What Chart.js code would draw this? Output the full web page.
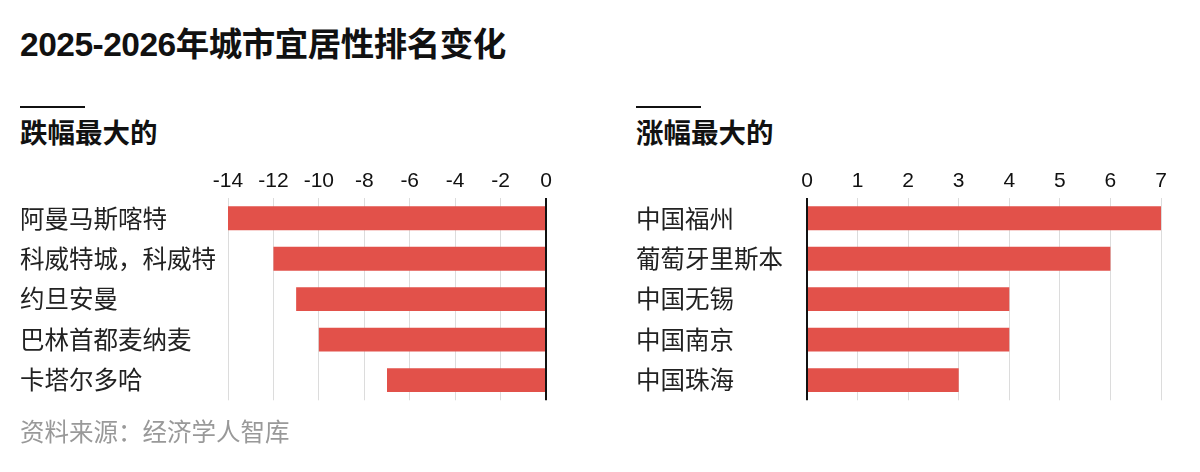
<!DOCTYPE html>
<html>
<head>
<meta charset="utf-8">
<script src="https://cdn.jsdelivr.net/npm/chart.js@4"></script>
<style>
  body { margin: 0; width: 1200px; height: 472px; background: #fff; position: relative; overflow: hidden;
         font-family: "Liberation Sans", "Noto Sans CJK SC", sans-serif; color: #111; }
  .title { position: absolute; left: 20px; top: 23px; font-size: 33.5px; font-weight: bold; line-height: 44px; letter-spacing: -0.5px; }
  .rule { position: absolute; top: 106px; width: 65px; height: 2px; background: #111; }
  .sub { position: absolute; top: 116px; font-size: 27.5px; font-weight: bold; line-height: 36px; }
  .source { position: absolute; left: 20px; top: 417px; font-size: 24.5px; line-height: 32px; color: #999; }
  canvas { position: absolute; }
</style>
</head>
<body>
<div class="title">2025-2026年城市宜居性排名变化</div>
<div class="rule" style="left:20px"></div>
<div class="sub" style="left:20px">跌幅最大的</div>
<div class="rule" style="left:636px"></div>
<div class="sub" style="left:636px">涨幅最大的</div>
<canvas id="fallChart" style="left:20px; top:162px"></canvas>
<canvas id="riseChart" style="left:636px; top:162px"></canvas>
<div class="source">资料来源：经济学人智库</div>

<script>
// 数据
const fallCities = ['阿曼马斯喀特', '科威特城，科威特', '约旦安曼', '巴林首都麦纳麦', '卡塔尔多哈'];
const fallValues = [-14, -12, -11, -10, -7];
const riseCities = ['中国福州', '葡萄牙里斯本', '中国无锡', '中国南京', '中国珠海'];
const riseValues = [7, 6, 4, 4, 3];

Chart.defaults.font.family = '"Liberation Sans", "Noto Sans CJK SC", sans-serif';
Chart.defaults.color = '#111';

// 排名变化条形图
function drawChart(canvasId, labels, values, opts) {
    const canvas = document.getElementById(canvasId);
    canvas.width = opts.width;
    canvas.height = 256;
    canvas.style.width = opts.width + 'px';
    canvas.style.height = '256px';

    return new Chart(canvas.getContext('2d'), {
        type: 'bar',
        data: {
            labels: labels,
            datasets: [{
                data: values,
                backgroundColor: '#e2514a',
                borderWidth: 0,
                categoryPercentage: 1,
                barPercentage: 0.59
            }]
        },
        options: {
            indexAxis: 'y',
            responsive: false,
            animation: false,
            layout: { padding: { left: 0, right: 12, top: 0, bottom: 4 } },
            plugins: { legend: { display: false }, tooltip: { enabled: false } },
            scales: {
                x: {
                    position: 'top',
                    min: opts.min,
                    max: opts.max,
                    afterFit: s => { s.height = 36; },
                    ticks: {
                        stepSize: opts.step,
                        padding: 4,
                        color: '#111',
                        font: { size: 21 }
                    },
                    grid: {
                        drawTicks: false,
                        color: ctx => ctx.tick && ctx.tick.value === 0 ? '#111' : '#dcdcdc',
                        lineWidth: ctx => ctx.tick && ctx.tick.value === 0 ? 2 : 1
                    },
                    border: { display: false }
                },
                y: {
                    afterFit: s => { s.width = opts.axisWidth; },
                    ticks: {
                        crossAlign: 'far',
                        color: '#222',
                        font: { size: 24.5, family: '"Noto Sans CJK SC", sans-serif' }
                    },
                    grid: { display: false },
                    border: { display: false }
                }
            }
        }
    });
}

drawChart('fallChart', fallCities, fallValues, { min: -14, max: 0, step: 2, axisWidth: 208, width: 538 });
drawChart('riseChart', riseCities, riseValues, { min: 0, max: 7, step: 1, axisWidth: 171, width: 537 });
</script>
</body>
</html>
